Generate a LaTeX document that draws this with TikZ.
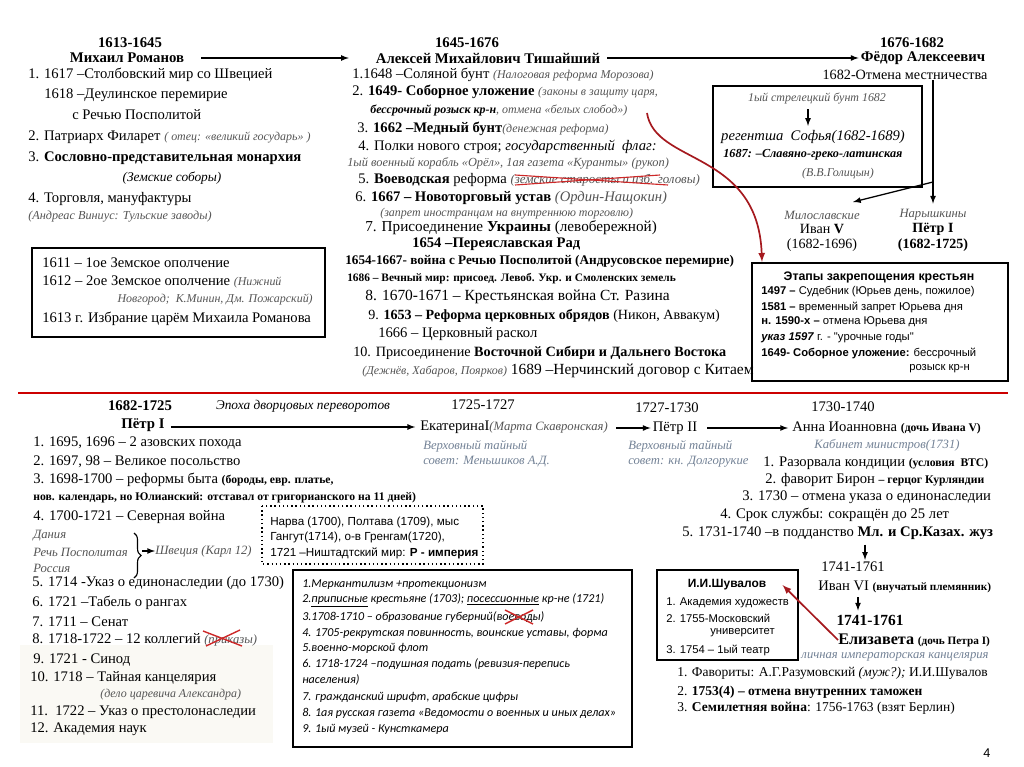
\documentclass[tikz,border=0pt]{standalone}
\usepackage{fontspec}
\setmainfont{Liberation Serif}
\newfontfamily\arialf{Liberation Sans}
\newfontfamily\calibf{Carlito}
\usepackage{xcolor}
\usepackage{tikz}
\usetikzlibrary{decorations.pathreplacing}
\definecolor{notegray}{RGB}{85,85,85}
\definecolor{noteblue}{RGB}{115,130,150}
\definecolor{darkred}{RGB}{165,25,30}
\definecolor{strikered}{RGB}{205,40,40}
\definecolor{bgbeige}{RGB}{250,249,244}
\newcommand\gnote[1]{{\fontsize{8.5}{10}\selectfont\itshape\color{notegray}#1}}
\newcommand\bnote[1]{{\fontsize{9}{10}\selectfont\itshape\color{noteblue}#1}}
\newcommand\smbold[1]{{\fontsize{8.3}{10}\selectfont\bfseries #1}}
\tikzset{
  ln/.style={anchor=west, inner sep=0pt, font=\fontsize{10.4}{12}\selectfont},
  ct/.style={inner sep=0pt, font=\fontsize{10.4}{12}\selectfont},
  hd/.style={inner sep=0pt, font=\fontsize{10.5}{12}\selectfont\bfseries},
  sln/.style={anchor=west, inner sep=0pt, font=\arialf\fontsize{8}{10}\selectfont},
  cln/.style={anchor=west, inner sep=0pt, font=\calibf\itshape\fontsize{8.6}{10}\selectfont},
  arr/.style={-latex, line width=0.9pt},
  redarr/.style={-latex, line width=1.2pt, draw=darkred},
  strike/.style={strikered, line width=0.8pt}
}

\begin{document}
\begin{tikzpicture}[x=0.025cm, y=-0.025cm]
\useasboundingbox (0,0) rectangle (1024,767);
\fill[white] (0,0) rectangle (1024,767);

\node[hd] (mr-y) at (130,43) {1613-1645};
\node[hd] (mr-n) at (127,58) {Михаил Романов};
\node[ln] (mr-1) at (28,75) {1. 1617 –Столбовский мир со Швецией};
\node[ln] (mr-1b) at (44,95) {1618 –Деулинское перемирие};
\node[ln] (mr-1c) at (72,115) {с Речью Посполитой};
\node[ln] (mr-2) at (28,137) {2. Патриарх Филарет \gnote{( отец: «великий государь» )}};
\node[ln] (mr-3) at (28,158) {3. \textbf{Сословно-представительная монархия}};
\node[ct] (mr-3b) at (172,178) {\fontsize{9.5}{11}\selectfont\itshape(Земские соборы)};
\node[ln] (mr-4) at (28,199) {4. Торговля, мануфактуры};
\node[ln] (mr-4b) at (28,217) {\gnote{\fontsize{8.7}{10}\selectfont(Андреас Виниус: Тульские заводы)}};

\draw[line width=1.4pt] (32,248) rectangle (325,337);
\node[ln] (sm-1) at (42,263) {1611 – 1ое Земское ополчение};
\node[ln] (sm-2) at (42,282) {1612 – 2ое Земское ополчение \gnote{(Нижний}};
\node[ln, anchor=east] (sm-3) at (313,300) {\gnote{Новгород;~~К.Минин, Дм. Пожарский)}};
\node[ln] (sm-4) at (42,319) {1613 г. Избрание царём Михаила Романова};

\node[hd] (am-y) at (467,43) {1645-1676};
\node[hd] (am-n) at (488,58) {Алексей Михайлович Тишайший};
\node[ln] (am-1) at (352,75) {1.1648 –Соляной бунт \gnote{(Налоговая реформа Морозова)}};
\node[ln] (am-2) at (352,92) {2. \textbf{1649- Соборное уложение} \gnote{(законы в защиту царя,}};
\node[ln] (am-2b) at (370,110) {\gnote{{\color{black}\bfseries бессрочный розыск кр-н}, отмена «белых слобод»)}};
\node[ln] (am-3) at (357,129) {3. \textbf{1662 –Медный бунт}\gnote{(денежная реформа)}};
\node[ln] (am-4) at (358,147) {4. Полки нового строя; \textit{государственный~~флаг:}};
\node[ln] (am-4b) at (347,163) {\gnote{\fontsize{8.8}{10}\selectfont 1ый военный корабль «Орёл», 1ая газета «Куранты» (рукоп)}};
\node[ln] (am-5) at (358,180) {5. \textbf{Воеводская} реформа \gnote{\fontsize{9.2}{10}\selectfont(земские старосты и изб. головы)}};
\node[ln] (am-6) at (355,198) {6. \textbf{1667 – Новоторговый устав} {\itshape\color{notegray}(Ордин-Нащокин)}};
\node[ln] (am-6b) at (380,214) {\gnote{(запрет иностранцам на внутреннюю торговлю)}};
\node[ln, font=\fontsize{10.8}{12}\selectfont] (am-7) at (365,228) {7. Присоединение \textbf{Украины} (левобережной)};
\node[ln] (am-7b) at (412,244) {\textbf{1654 –Переяславская Рад}};
\node[ln] (am-7c) at (345,261) {{\fontsize{9.4}{10}\selectfont\bfseries 1654-1667- война с Речью Посполитой (Андрусовское перемирие)}};
\node[ln] (am-7d) at (347,279) {{\fontsize{8.1}{10}\selectfont\bfseries 1686 – Вечный мир: присоед. Левоб. Укр. и Смоленских земель}};
\node[ln, font=\fontsize{11}{13}\selectfont] (am-8) at (365,297) {8. 1670-1671 – Крестьянская война Ст. Разина};
\node[ln, font=\fontsize{10}{12}\selectfont] (am-9) at (368,316) {9. \textbf{1653 – Реформа церковных обрядов} (Никон, Аввакум)};
\node[ln] (am-9b) at (378,334) {1666 – Церковный раскол};
\node[ln, font=\fontsize{10.1}{12}\selectfont] (am-10) at (353,353) {10. Присоединение \textbf{Восточной Сибири и Дальнего Востока}};
\node[ln, font=\fontsize{11}{13}\selectfont] (am-10b) at (362,371) {\gnote{(Дежнёв, Хабаров, Поярков)} 1689 –Нерчинский договор с Китаем};
\draw[strike] (515,175) -- (668,185);
\draw[strike] (515,185) -- (660,175);

\node[hd] (fa-y) at (912,43) {1676-1682};
\node[hd] (fa-n) at (923,58) {Фёдор Алексеевич};
\node[ct, font=\fontsize{10.1}{12}\selectfont] (fa-1) at (905,75) {1682-Отмена местничества};
\draw[line width=0.9pt] (713,86) rectangle (922,187);
\node[ct] (sf-0) at (817,99) {\gnote{1ый стрелецкий бунт 1682}};
\node[ct] (sf-1) at (813,137) {\fontsize{10.4}{12}\selectfont\itshape регентша~~Софья(1682-1689)};
\node[ln] (sf-2) at (723,155) {\fontsize{8.7}{10}\selectfont\bfseries\itshape 1687: –Славяно-греко-латинская};
\node[ct] (sf-3) at (838,174) {\gnote{(В.В.Голицын)}};
\draw[arr, shorten <=3pt, shorten >=3pt] (sf-0.south -| 808,0) -- (sf-1.north -| 808,0);

\node[ct] (iv-l) at (822,215) {\gnote{\fontsize{9}{10}\selectfont Милославские}};
\node[ct, font=\fontsize{10}{12}\selectfont] (iv-n) at (822,229) {Иван \textbf{V}};
\node[ct, font=\fontsize{10}{12}\selectfont] (iv-y) at (822,245) {(1682-1696)};
\node[ct] (p1-l) at (933,215) {\gnote{\fontsize{9}{10}\selectfont Нарышкины}};
\node[ct, font=\fontsize{10}{12}\selectfont] (p1-n) at (933,229) {\textbf{Пётр I}};
\node[ct, font=\fontsize{10}{12}\selectfont] (p1-y) at (933,245) {\textbf{(1682-1725)}};
\coordinate (fork) at (933,182);
\coordinate (iv-t) at (853,202);
\draw[arr, shorten >=4pt] (fa-1.south -| p1-l) -- (p1-l);
\draw[arr] (fork) -- (iv-t);

\draw[arr, shorten <=0.42cm, shorten >=0.67cm] (mr-n) -- (mr-n -| am-n.west);
\draw[arr, shorten <=0.17cm, shorten >=0.05cm] (am-n) -- (am-n -| fa-n.west);

\draw[line width=1.2pt] (752,263) rectangle (1008,381);
\node[ct, font=\arialf\bfseries\fontsize{8.8}{10}\selectfont] (et-0) at (879,277) {Этапы закрепощения крестьян};
\node[sln] (et-1) at (761,292) {\textbf{1497 –} Судебник (Юрьев день, пожилое)};
\node[sln] (et-2) at (761,307) {\textbf{1581 –} временный запрет Юрьева дня};
\node[sln] (et-3) at (761,322) {\textbf{н. 1590-х –} отмена Юрьева дня};
\node[sln] (et-4) at (761,338) {\textbf{\textit{указ 1597}} г. - "урочные годы"};
\node[sln] (et-5) at (761,353) {\textbf{1649- Соборное уложение:} бессрочный};
\node[sln, anchor=east] (et-6) at (970,369) {розыск кр-н};
\coordinate (et-t) at (762,262);
\draw[redarr] (647,113) .. controls (655,165) and (758,150) .. (et-t);

\draw[red!80!black, line width=1pt] (18,393) -- (1008,393);

\node[hd] (pb-y) at (140,406) {1682-1725};
\node[hd] (pb-n) at (143,425) {Пётр I};
\node[ct] (epoch) at (303,406) {\fontsize{9.5}{11}\selectfont\itshape Эпоха дворцовых переворотов};
\node[ct] (ek-y) at (483,405) {1725-1727};
\node[ln] (ek-n) at (420,427) {ЕкатеринаI{\fontsize{9}{10}\selectfont\itshape\color{notegray}(Марта Скавронская)}};
\node[ln] (ek-s1) at (423,446) {\bnote{Верховный тайный}};
\node[ln] (ek-s2) at (423,462) {\bnote{совет: Меньшиков А.Д.}};
\node[ct] (p2-y) at (667,408) {1727-1730};
\node[ct] (p2-n) at (675,428) {Пётр II};
\node[ln] (p2-s1) at (628,446) {\bnote{Верховный тайный}};
\node[ln] (p2-s2) at (628,462) {\bnote{совет: кн. Долгорукие}};
\node[ct] (an-y) at (843,407) {1730-1740};
\node[ln] (an-n) at (792,428) {Анна Иоанновна \smbold{(дочь Ивана V)}};
\node[ct] (an-s) at (887,445) {\bnote{Кабинет министров(1731)}};
\node[ln] (an-1) at (763,463) {1. Разорвала кондиции \smbold{(условия~~ВТС)}};
\node[ln] (an-2) at (765,480) {2. фаворит Бирон \smbold{– герцог Курляндии}};
\node[ln] (an-3) at (742,497) {3. 1730 – отмена указа о единонаследии};
\node[ln] (an-4) at (720,515) {4. Срок службы: сокращён до 25 лет};
\node[ln] (an-5) at (682,533) {5. 1731-1740 –в подданство \textbf{Мл. и Ср.Казах. жуз}};
\draw[arr, shorten <=0.15cm, shorten >=0.12cm] (pb-n.east |- ek-n) -- (ek-n.west);
\draw[arr, shorten <=0.2cm, shorten >=0.05cm] (ek-n.east |- p2-n) -- (p2-n.west);
\draw[arr, shorten <=0.25cm, shorten >=0.1cm] (p2-n.east) -- (p2-n -| an-n.west);

\node[ct] (iv6-y) at (853,567) {1741-1761};
\node[ln] (iv6-n) at (818,587) {Иван VI {\fontsize{8}{10}\selectfont\bfseries(внучатый племянник)}};
\node[ct, font=\fontsize{11}{13}\selectfont\bfseries] (el-y) at (870,620) {1741-1761};
\node[ln] (el-n) at (838,640) {{\fontsize{11.5}{13}\selectfont\bfseries Елизавета} {\fontsize{8}{10}\selectfont\bfseries(дочь Петра I)}};
\node[ct] (el-s) at (895,657) {\bnote{личная императорская канцелярия}};
\node[ln, font=\fontsize{9.6}{11}\selectfont] (el-1) at (677,673) {1. Фавориты: А.Г.Разумовский \textit{(муж?);} И.И.Шувалов};
\node[ln, font=\fontsize{9.6}{11}\selectfont] (el-2) at (677,692) {2. \textbf{1753(4) – отмена внутренних таможен}};
\node[ln, font=\fontsize{9.6}{11}\selectfont] (el-3) at (677,708) {3. \textbf{Семилетняя война}: 1756-1763 (взят Берлин)};
\draw[arr, shorten <=0.12cm, shorten >=0.05cm] ([xshift=0.3cm]an-5.south -| iv6-y) -- ([xshift=0.3cm]iv6-y.north);
\draw[arr, shorten <=0.1cm, shorten >=0.1cm] ([xshift=-0.3cm]iv6-n.south -| el-y) -- ([xshift=-0.3cm]el-y.north);
\node[ct, font=\arialf\fontsize{9}{10}\selectfont] (pg) at (987,753) {4};

\draw[line width=1.2pt] (657,570) rectangle (798,660);
\node[ct, font=\arialf\bfseries\fontsize{8.5}{10}\selectfont] (sh-0) at (727,585) {И.И.Шувалов};
\node[sln] (sh-1) at (666,603) {1. Академия художеств};
\node[sln] (sh-2) at (666,618) {2. 1755-Московский};
\node[sln] (sh-3) at (710,633) {университет};
\node[sln] (sh-4) at (666,650) {3. 1754 – 1ый театр};
\draw[redarr] (el-n.west) -- ([xshift=0.4cm]sh-0.east);

\node[ln] (pb-1) at (33,443) {1. 1695, 1696 – 2 азовских похода};
\node[ln] (pb-2) at (33,462) {2. 1697, 98 – Великое посольство};
\node[ln] (pb-3) at (33,480) {3. 1698-1700 – реформы быта \smbold{(бороды, евр. платье,}};
\node[ln] (pb-3b) at (33,498) {\smbold{нов. календарь, но Юлианский: отставал от григорианского на 11 дней)}};
\node[ln] (pb-4) at (33,517) {4. 1700-1721 – Северная война};
\node[ln] (sw-1) at (33,536) {\gnote{\fontsize{9}{10}\selectfont Дания}};
\node[ln] (sw-2) at (33,552) {\gnote{\fontsize{9}{10}\selectfont Речь Посполитая}};
\node[ln] (sw-3) at (33,568) {\gnote{\fontsize{9}{10}\selectfont Россия}};
\node[ln] (sw-4) at (155,551) {\gnote{\fontsize{9}{10}\selectfont Швеция (Карл 12)}};
\draw[decorate, decoration={brace, amplitude=5pt}, line width=0.8pt] (134,533) -- (134,578);
\coordinate (br) at (142,551);
\draw[arr] (br) -- (sw-4.west);

\draw[dotted, line width=1pt] (262,506) rectangle (483,564);
\node[sln, font=\arialf\fontsize{8.3}{10}\selectfont] (nv-1) at (270,522) {Нарва (1700), Полтава (1709), мыс};
\node[sln, font=\arialf\fontsize{8.3}{10}\selectfont] (nv-2) at (270,537) {Гангут(1714), о-в Гренгам(1720),};
\node[sln, font=\arialf\fontsize{8.3}{10}\selectfont] (nv-3) at (270,553) {1721 –Ништадтский мир: \textbf{Р - империя}};

\fill[bgbeige] (20,645) rectangle (273,743);
\node[ln] (pb-5) at (32,583) {5. 1714 -Указ о единонаследии (до 1730)};
\node[ln] (pb-6) at (32,603) {6. 1721 –Табель о рангах};
\node[ln] (pb-7) at (32,622) {7. 1711 – Сенат};
\node[ln] (pb-8) at (32,640) {8. 1718-1722 – 12 коллегий \gnote{\fontsize{9}{10}\selectfont(приказы)}};
\draw[strike, line width=1pt] (203,631) -- (242,646);
\draw[strike, line width=1pt] (206,646) -- (240,630);
\node[ln] (pb-9) at (33,660) {9. 1721 - Синод};
\node[ln] (pb-10) at (30,678) {10. 1718 – Тайная канцелярия};
\node[ln] (pb-10b) at (100,695) {\gnote{(дело царевича Александра)}};
\node[ln] (pb-11) at (30,712) {11.~~1722 – Указ о престолонаследии};
\node[ln] (pb-12) at (30,729) {12. Академия наук};

\draw[line width=1.2pt] (293,570) rectangle (632,747);
\node[cln] (mk-1) at (302,585) {1.Меркантилизм +протекционизм};
\node[cln] (mk-2) at (302,600) {2.\underline{приписные} крестьяне (1703); \underline{посессионные} кр-не (1721)};
\node[cln] (mk-3) at (302,617) {3.1708-1710 – образование губерний(воеводы)};
\node[cln] (mk-4) at (302,633) {4. 1705-рекрутская повинность, воинские уставы, форма};
\node[cln] (mk-5) at (302,648) {5.военно-морской флот};
\node[cln] (mk-6) at (302,664) {6. 1718-1724 –подушная подать (ревизия-перепись};
\node[cln] (mk-6b) at (302,680) {населения)};
\node[cln] (mk-7) at (302,697) {7. гражданский шрифт, арабские цифры};
\node[cln] (mk-8) at (302,713) {8. 1ая русская газета «Ведомости о военных и иных делах»};
\node[cln] (mk-9) at (302,729) {9. 1ый музей - Кунсткамера};
\draw[strike, line width=1pt] (505,610) -- (533,624);
\draw[strike, line width=1pt] (505,624) -- (533,610);
\end{tikzpicture}
\end{document}
